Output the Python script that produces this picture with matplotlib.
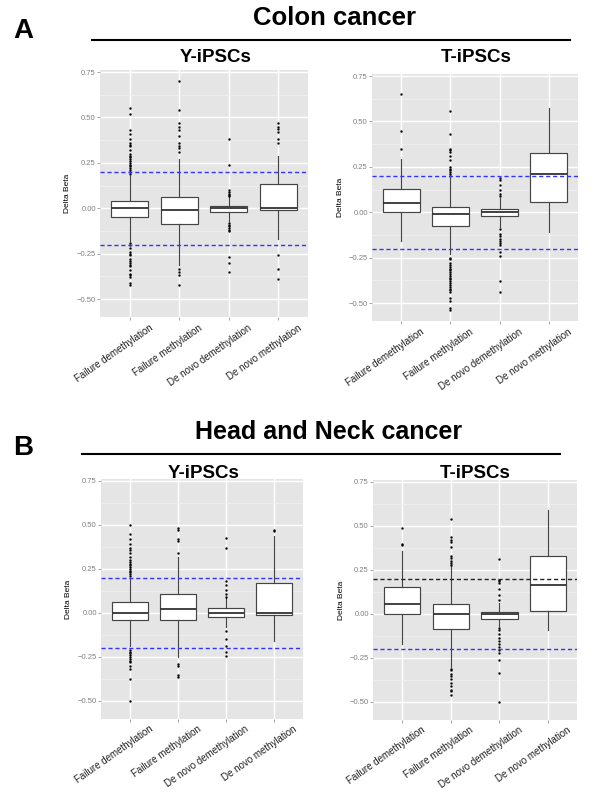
import matplotlib
matplotlib.use("Agg")
import matplotlib.pyplot as plt
import matplotlib.transforms as mtransforms

plt.rcParams['font.family'] = ['Liberation Sans', 'DejaVu Sans']

categories = ["Failure demethylation", "Failure methylation",
              "De novo demethylation", "De novo methylation"]

# ---- Colon cancer, Y-iPSCs ----
colon_y_q1 = [-0.048, -0.088, -0.022, -0.011]
colon_y_med = [0.0, -0.011, 0.0, 0.0]
colon_y_q3 = [0.042, 0.060, 0.013, 0.132]
colon_y_lo = [-0.18, -0.31, -0.07, -0.17]
colon_y_hi = [0.175, 0.27, 0.065, 0.29]
colon_y_out = [
    [0.55, 0.52, 0.43, 0.41, 0.38, 0.36, 0.35, 0.34, 0.32, 0.30, 0.29, 0.28, 0.27,
     0.26, 0.25, 0.24, 0.23, 0.22, 0.21, 0.20, 0.19, -0.19, -0.20, -0.22, -0.24,
     -0.25, -0.26, -0.28, -0.29, -0.30, -0.31, -0.32, -0.34, -0.36, -0.37, -0.38,
     -0.41, -0.42],
    [0.70, 0.54, 0.47, 0.45, 0.43, 0.40, 0.36, 0.34, 0.33, 0.31, -0.335, -0.35,
     -0.37, -0.42],
    [0.38, 0.24, 0.10, 0.09, 0.08, 0.075, 0.07, -0.08, -0.09, -0.10, -0.11, -0.12,
     -0.125, -0.27, -0.30, -0.35],
    [0.47, 0.45, 0.435, 0.42, 0.38, 0.36, -0.26, -0.335, -0.39],
]

# ---- Colon cancer, T-iPSCs ----
colon_t_q1 = [0.002, -0.077, -0.02, 0.055]
colon_t_med = [0.05, -0.01, 0.0, 0.21]
colon_t_q3 = [0.127, 0.03, 0.02, 0.328]
colon_t_lo = [-0.16, -0.23, -0.08, -0.11]
colon_t_hi = [0.295, 0.19, 0.08, 0.576]
colon_t_out = [
    [0.65, 0.446, 0.347],
    [0.56, 0.43, 0.35, 0.34, 0.33, 0.31, 0.29, 0.25, 0.24, 0.23, 0.22, 0.21, 0.20,
     -0.25, -0.26, -0.28, -0.29, -0.30, -0.31, -0.32, -0.33, -0.34, -0.35, -0.36,
     -0.37, -0.38, -0.39, -0.40, -0.41, -0.42, -0.43, -0.44, -0.47, -0.49, -0.53,
     -0.54],
    [0.19, 0.18, 0.15, 0.12, 0.10, 0.09, -0.09, -0.12, -0.13, -0.15, -0.16, -0.17,
     -0.18, -0.22, -0.24, -0.38, -0.44],
    [],
]

# ---- Head and Neck cancer, Y-iPSCs ----
hn_y_q1 = [-0.04, -0.04, -0.02, -0.01]
hn_y_med = [0.0, 0.02, 0.0, 0.0]
hn_y_q3 = [0.06, 0.11, 0.03, 0.17]
hn_y_lo = [-0.19, -0.25, -0.08, -0.16]
hn_y_hi = [0.20, 0.32, 0.09, 0.44]
hn_y_out = [
    [0.50, 0.45, 0.42, 0.39, 0.37, 0.36, 0.34, 0.32, 0.30, 0.29, 0.28, 0.27, 0.26,
     0.25, 0.24, 0.23, 0.22, 0.21, -0.21, -0.22, -0.23, -0.24, -0.25, -0.26, -0.27,
     -0.28, -0.30, -0.32, -0.375, -0.50],
    [0.48, 0.47, 0.42, 0.41, 0.34, -0.29, -0.30, -0.35, -0.365],
    [0.424, 0.37, 0.18, 0.16, 0.13, 0.11, 0.09, -0.10, -0.15, -0.19, -0.22, -0.245],
    [0.47, 0.465],
]

# ---- Head and Neck cancer, T-iPSCs ----
hn_t_q1 = [0.0, -0.083, -0.027, 0.015]
hn_t_med = [0.059, 0.0, 0.0, 0.163]
hn_t_q3 = [0.153, 0.059, 0.011, 0.33]
hn_t_lo = [-0.17, -0.30, -0.07, -0.093]
hn_t_hi = [0.36, 0.277, 0.06, 0.59]
hn_t_out = [
    [0.49, 0.40, 0.39],
    [0.54, 0.44, 0.42, 0.41, 0.38, 0.33, 0.32, 0.30, 0.29, 0.28, -0.31, -0.32,
     -0.34, -0.35, -0.37, -0.39, -0.41, -0.43, -0.44, -0.46],
    [0.31, 0.195, 0.185, 0.175, 0.14, 0.11, 0.08, -0.08, -0.09, -0.115, -0.135,
     -0.155, -0.17, -0.185, -0.205, -0.22, -0.26, -0.335, -0.50],
    [],
]

thresholds = [0.2, -0.2]
yticks = [-0.50, -0.25, 0.00, 0.25, 0.50, 0.75]
ytick_labels = ["\u22120.50", "\u22120.25", "0.00", "0.25", "0.50", "0.75"]

W, H = 600, 806
fig = plt.figure(figsize=(W / 100, H / 100), dpi=100)


def rect(x0, x1, ytop, ybot):
    return [x0 / W, 1 - ybot / H, (x1 - x0) / W, (ybot - ytop) / H]


def panel(r, q1, med, q3, lo, hi, out, thr_colors, label_x):
    ax = fig.add_axes(r)
    stats = []
    for i in range(len(categories)):
        stats.append(dict(q1=q1[i], med=med[i], q3=q3[i], whislo=lo[i],
                          whishi=hi[i], fliers=out[i], label=categories[i]))
    ax.set_facecolor('#E5E5E5')
    ax.set_axisbelow(True)
    ax.set_xlim(0.4, 4.6)
    ax.set_ylim(-0.60, 0.76)
    ax.set_yticks(yticks)
    ax.set_yticklabels(ytick_labels)
    ax.set_yticks([-0.375, -0.125, 0.125, 0.375, 0.625], minor=True)
    ax.grid(which='major', color='white', lw=1.0)
    ax.grid(which='minor', axis='y', color='#F2F2F2', lw=0.5)
    for s in ax.spines.values():
        s.set_visible(False)
    ax.bxp(stats, positions=[1, 2, 3, 4], widths=0.75, patch_artist=True,
           showcaps=False,
           boxprops=dict(facecolor='white', edgecolor='#444444', lw=0.85),
           medianprops=dict(color='#333333', lw=1.3),
           whiskerprops=dict(color='#444444', lw=0.85),
           flierprops=dict(marker='o', markersize=1.45, markerfacecolor='black',
                           markeredgecolor='black', markeredgewidth=0.2,
                           linestyle='none'),
           zorder=3)
    for t, c in zip(thresholds, thr_colors):
        ax.axhline(t, color=c, ls=(0, (3, 2)), lw=1.0, zorder=4)
    ax.set_xticks([1, 2, 3, 4])
    ax.set_xticklabels([])
    base = mtransforms.blended_transform_factory(ax.transData, ax.transAxes)
    off = mtransforms.ScaledTranslation(0.19, -0.055, fig.dpi_scale_trans)
    for i, c in enumerate(categories):
        ax.text(i + 1, 0, c, transform=base + off, rotation=35, ha='right',
                va='top', rotation_mode='anchor', fontsize=7, color='#222222',
                clip_on=False)
    ax.tick_params(axis='both', which='major', length=2, width=0.5,
                   color='#7F7F7F', labelsize=5.5, pad=1)
    ax.tick_params(axis='y', labelcolor='#7F7F7F')
    ax.tick_params(which='minor', length=0)
    ax.set_ylabel('Delta Beta', fontsize=6, color='black')
    x0 = r[0] * W
    w = r[2] * W
    ax.yaxis.set_label_coords((label_x - x0) / w, 0.5)
    return ax


blue = '#3333FF'
panel(rect(100, 308, 70.2, 317.2), colon_y_q1, colon_y_med, colon_y_q3,
      colon_y_lo, colon_y_hi, colon_y_out, [blue, blue], 71)
panel(rect(372, 578, 74.2, 321.2), colon_t_q1, colon_t_med, colon_t_q3,
      colon_t_lo, colon_t_hi, colon_t_out, [blue, blue], 344)
panel(rect(101, 303, 479.2, 718.6), hn_y_q1, hn_y_med, hn_y_q3,
      hn_y_lo, hn_y_hi, hn_y_out, [blue, blue], 72)
panel(rect(373, 577, 480.2, 719.6), hn_t_q1, hn_t_med, hn_t_q3,
      hn_t_lo, hn_t_hi, hn_t_out, ['#222222', blue], 345)


def ftext(x, y, s, size, ha='left'):
    fig.text(x / W, 1 - y / H, s, fontsize=size, fontweight='bold',
             ha=ha, va='baseline', color='black')


def fline(x0, x1, y):
    fig.add_artist(plt.Line2D([x0 / W, x1 / W], [1 - y / H, 1 - y / H],
                              color='black', lw=1.5, transform=fig.transFigure))


ftext(13, 38, 'A', 20)
ftext(253, 25, 'Colon cancer', 18.5)
fline(92, 570, 40)
ftext(216, 62, 'Y-iPSCs', 13.5, ha='center')
ftext(476, 62, 'T-iPSCs', 13.5, ha='center')

ftext(13, 455, 'B', 20)
ftext(195, 439, 'Head and Neck cancer', 18)
fline(82, 560, 454)
ftext(204, 478, 'Y-iPSCs', 13.5, ha='center')
ftext(475, 478, 'T-iPSCs', 13.5, ha='center')

fig.savefig('out.png', dpi=100)
